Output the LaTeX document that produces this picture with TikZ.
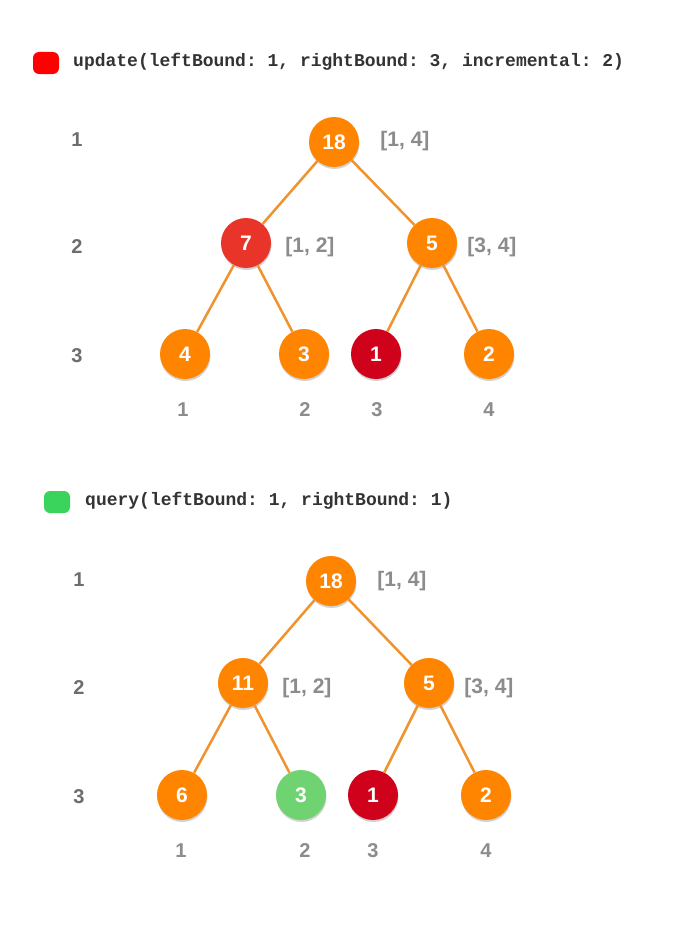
\documentclass[tikz,border=0pt]{standalone}
\usepackage{fontspec}
\setmainfont{Liberation Sans}
\setmonofont{Liberation Mono}
\usetikzlibrary{shadows}
\definecolor{nodeorange}{HTML}{FF8400}
\definecolor{edgeorange}{HTML}{F0932F}
\definecolor{nodered}{HTML}{E9342A}
\definecolor{nodedark}{HTML}{D0021B}
\definecolor{nodegreen}{HTML}{6FD372}
\definecolor{markred}{HTML}{FF0000}
\definecolor{markgreen}{HTML}{3AD35B}
\definecolor{rangegray}{HTML}{8C8C8C}
\definecolor{levelgray}{HTML}{6D6D6D}
\tikzstyle{vertex}=[circle,fill=nodeorange,minimum size=50pt,inner sep=0pt,text=white,font=\bfseries\fontsize{21}{21}\selectfont,drop shadow={opacity=0.35,shadow xshift=0.5pt,shadow yshift=-2pt}]
\tikzstyle{edge} = [draw,line width=2.5pt,edgeorange]
\tikzstyle{rangelabel} = [text=rangegray,font=\bfseries\fontsize{21}{21}\selectfont]
\tikzstyle{depthlabel} = [text=levelgray,font=\bfseries\fontsize{20}{20}\selectfont]
\tikzstyle{leafindex} = [text=rangegray,font=\bfseries\fontsize{20}{20}\selectfont]
\tikzstyle{call} = [anchor=west,inner sep=0pt,text=black!80,font=\ttfamily\bfseries\fontsize{18}{18}\selectfont]
\tikzstyle{marker} = [rounded corners=6pt,minimum width=26pt,minimum height=22pt,inner sep=0pt]

\begin{document}
\begin{tikzpicture}[x=1pt,y=-1pt]
	\useasboundingbox[fill=white] (0,0) rectangle (673,950);
	
	% update
	\node[marker,fill=markred] (m1) at (46,63) {};
	\node[call] (c1) at (73,62) {update(leftBound: 1, rightBound: 3, incremental: 2)};
	\foreach \y/\name/\n in {140/u1/1,247/u2/2,356/u3/3}
	\node[depthlabel] (\name) at (77,\y) {\n};
	\foreach \pos/\name/\val/\col in {{(334,142)/a1/18/nodeorange},{(246,243)/a2/7/nodered},{(432,243)/a3/5/nodeorange},{(185,354)/a4/4/nodeorange},{(304,354)/a5/3/nodeorange},{(376,354)/a6/1/nodedark},{(489,354)/a7/2/nodeorange}}
	\node[vertex,fill=\col] (\name) at \pos {\val};
	\foreach \source/\dest in {a1/a2,a1/a3,a2/a4,a2/a5,a3/a6,a3/a7}
	\path[edge] (\source) -- (\dest);
	\node[rangelabel] (ra1) at (405,141) {[1, 4]};
	\node[rangelabel] (ra2) at (310,247) {[1, 2]};
	\node[rangelabel] (ra3) at (492,247) {[3, 4]};
	\foreach \x/\name/\n in {183/ia1/1,305/ia2/2,377/ia3/3,489/ia4/4}
	\node[leafindex] (\name) at (\x,410) {\n};
	
	% query
	\node[marker,fill=markgreen] (m2) at (57,502) {};
	\node[call] (c2) at (85,501) {query(leftBound: 1, rightBound: 1)};
	\foreach \y/\name/\n in {580/q1/1,688/q2/2,797/q3/3}
	\node[depthlabel] (\name) at (79,\y) {\n};
	\foreach \pos/\name/\val/\col in {{(331,581)/b1/18/nodeorange},{(243,683)/b2/11/nodeorange},{(429,683)/b3/5/nodeorange},{(182,795)/b4/6/nodeorange},{(301,795)/b5/3/nodegreen},{(373,795)/b6/1/nodedark},{(486,795)/b7/2/nodeorange}}
	\node[vertex,fill=\col] (\name) at \pos {\val};
	\foreach \source/\dest in {b1/b2,b1/b3,b2/b4,b2/b5,b3/b6,b3/b7}
	\path[edge] (\source) -- (\dest);
	\node[rangelabel] (rb1) at (402,581) {[1, 4]};
	\node[rangelabel] (rb2) at (307,688) {[1, 2]};
	\node[rangelabel] (rb3) at (489,688) {[3, 4]};
	\foreach \x/\name/\n in {181/ib1/1,305/ib2/2,373/ib3/3,486/ib4/4}
	\node[leafindex] (\name) at (\x,851) {\n};
\end{tikzpicture}
\end{document}
